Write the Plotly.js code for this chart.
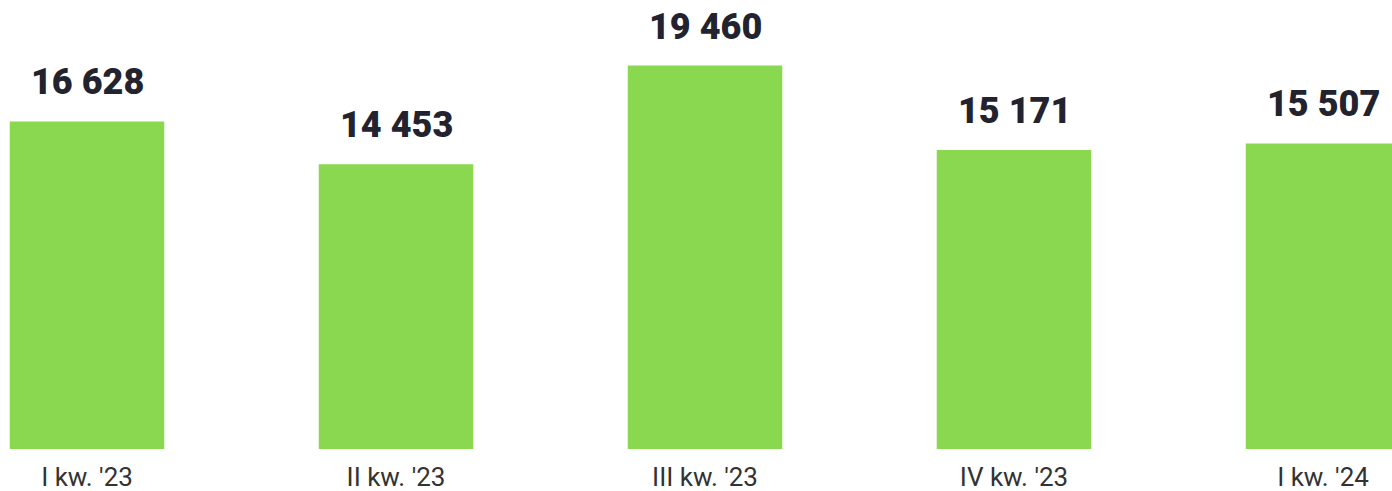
<!DOCTYPE html>
<html>
<head>
<meta charset="utf-8">
<script src="https://cdn.plot.ly/plotly-3.0.1.min.js"></script>
<style>
  html, body { margin: 0; padding: 0; background: #ffffff; }
  #chart { width: 1392px; height: 491px; }
</style>
</head>
<body>
<div id="chart"></div>
<script>
// Quarterly values
const quarters = ["I kw. '23", "II kw. '23", "III kw. '23", "IV kw. '23", "I kw. '24"];
const values = [16628, 14453, 19460, 15171, 15507];
const valueLabels = ["16 628", "14 453", "19 460", "15 171", "15 507"];

const barColor = "#8AD750";
const textColor = "#23232f";

const trace = {
  type: "bar",
  x: quarters,
  y: values,
  width: 0.5,
  marker: { color: barColor },
  hoverinfo: "skip"
};

const annotations = quarters.map((q, i) => ({
  x: q,
  y: values[i],
  xref: "x",
  yref: "y",
  text: valueLabels[i],
  showarrow: false,
  yanchor: "bottom",
  yshift: 16,
  font: { family: "Roboto", size: 36, color: textColor, weight: 900 }
}));

const layout = {
  width: 1392,
  height: 491,
  margin: { l: 0, r: 0, t: 0, b: 42 },
  paper_bgcolor: "#ffffff",
  plot_bgcolor: "#ffffff",
  showlegend: false,
  bargap: 0.5,
  xaxis: {
    type: "category",
    range: [-0.2816, 4.2233],
    showgrid: false,
    zeroline: false,
    showline: false,
    ticks: "",
    ticklabelstandoff: 10,
    tickfont: { family: "Roboto", size: 26, color: "#333333" },
    fixedrange: true
  },
  yaxis: {
    range: [0, 22790],
    visible: false,
    showgrid: false,
    zeroline: false,
    fixedrange: true
  },
  annotations: annotations
};

Plotly.newPlot("chart", [trace], layout, { displayModeBar: false, staticPlot: true });
</script>
</body>
</html>
